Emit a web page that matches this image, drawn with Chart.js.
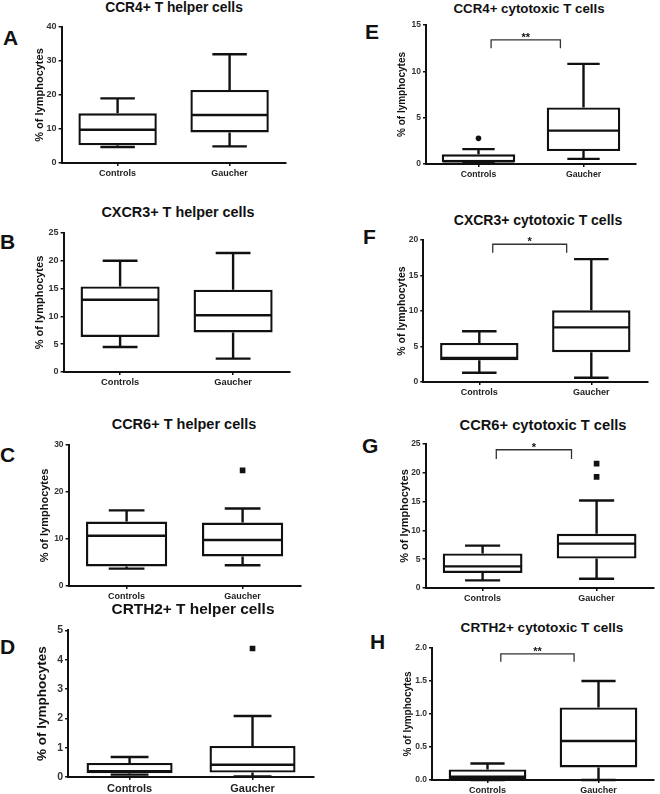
<!DOCTYPE html>
<html>
<head>
<meta charset="utf-8">
<script src="https://cdn.jsdelivr.net/npm/chart.js@4"></script>
<style>
    html, body { margin: 0; padding: 0; background: #fff; }
    body { position: relative; width: 660px; height: 794px; overflow: hidden; font-family: 'Liberation Sans', Arial, sans-serif; }
    canvas { position: absolute; }
    .title, .letter { position: absolute; color: #111; font-weight: bold; white-space: nowrap; }
    .title { width: 260px; text-align: center; }
</style>
</head>
<body>
<script>
// Groups on the x axis
const groups = ['Controls', 'Gaucher'];

// Box stats per group: [min, Q1, median, Q3, max]
const ccr4HelperControls = [4.7, 5.2, 9.8, 14.6, 19.0];
const ccr4HelperGaucher = [4.9, 9.0, 14.1, 21.5, 32.0];
const cxcr3HelperControls = [4.5, 6.3, 13.0, 15.4, 20.0];
const cxcr3HelperGaucher = [2.4, 7.1, 10.2, 14.8, 21.4];
const ccr6HelperControls = [3.7, 4.15, 10.7, 13.7, 16.1];
const ccr6HelperGaucher = [4.4, 6.3, 9.8, 13.5, 16.5];
const crth2HelperControls = [0.08, 0.13, 0.2, 0.48, 0.68];
const crth2HelperGaucher = [0.02, 0.15, 0.42, 1.06, 2.08];

const ccr4CytoControls = [0.1, 0.2, 0.3, 1.04, 1.6];
const ccr4CytoGaucher = [0.55, 1.4, 3.6, 6.1, 10.8];
const cxcr3CytoControls = [1.3, 3.06, 3.4, 5.5, 7.15];
const cxcr3CytoGaucher = [0.6, 4.2, 7.7, 10.1, 17.3];
const ccr6CytoControls = [1.33, 2.6, 3.76, 6.0, 7.35];
const ccr6CytoGaucher = [1.6, 5.1, 7.7, 9.4, 15.2];
const crth2CytoControls = [0.0, 0.01, 0.05, 0.16, 0.25];
const crth2CytoGaucher = [0.0, 0.19, 0.59, 1.1, 1.5];

// Outliers: [group index, value]
const ccr6HelperOutliers = [[1, 24.6]];
const crth2HelperOutliers = [[1, 4.38]];
const ccr4CytoOutliers = [[0, 2.77]];
const ccr6CytoOutliers = [[1, 21.6], [1, 19.3]];

// Y tick labels
const ccr4HelperTicks = [0, 10, 20, 30, 40];
const cxcr3HelperTicks = [0, 5, 10, 15, 20, 25];
const ccr6HelperTicks = [0, 10, 20, 30];
const crth2HelperTicks = [0, 1, 2, 3, 4, 5];
const ccr4CytoTicks = [0, 5, 10, 15];
const cxcr3CytoTicks = [0, 5, 10, 15, 20];
const ccr6CytoTicks = [0, 5, 10, 15, 20, 25];
const crth2CytoTicks = [0, 0.5, 1.0, 1.5, 2.0];

// Significance: [label, bracket top, bracket ends]
const ccr4CytoSig = ['**', 13.4, 12.5];
const cxcr3CytoSig = ['*', 19.4, 18.2];
const ccr6CytoSig = ['*', 24.0, 22.4];
const crth2CytoSig = ['**', 1.91, 1.79];

const FONT = "'Liberation Sans', Arial, sans-serif";
const INK = '#111';
const LINE = 2.4;

// Layout of each panel (axis left, plot top/bottom, plot width, text placement)
const panels = [
    { letter: 'A', title: 'CCR4+ T helper cells', stats: [ccr4HelperControls, ccr4HelperGaucher], ticks: ccr4HelperTicks,
      left: 62, top: 27, bottom: 163, width: 224, titleDist: 22, yTitleSize: 11, tickSize: 9, labelSize: 9,
      titleX: 174, titleY: 8, titleSize: 13.8, letterX: 3, letterY: 37 },
    { letter: 'B', title: 'CXCR3+ T helper cells', stats: [cxcr3HelperControls, cxcr3HelperGaucher], ticks: cxcr3HelperTicks,
      left: 64, top: 233, bottom: 372, width: 226, titleDist: 24, yTitleSize: 11, tickSize: 9, labelSize: 9.3,
      titleX: 178, titleY: 212, titleSize: 14.4, letterX: 0, letterY: 241 },
    { letter: 'C', title: 'CCR6+ T helper cells', stats: [ccr6HelperControls, ccr6HelperGaucher], ticks: ccr6HelperTicks,
      outliers: ccr6HelperOutliers, marker: 'rect',
      left: 69, top: 445, bottom: 586, width: 232, titleDist: 24, yTitleSize: 11, tickSize: 8.5, labelSize: 9,
      titleX: 184, titleY: 424, titleSize: 14.5, letterX: 0, letterY: 454 },
    { letter: 'D', title: 'CRTH2+ T helper cells', stats: [crth2HelperControls, crth2HelperGaucher], ticks: crth2HelperTicks,
      outliers: crth2HelperOutliers, marker: 'rect',
      left: 68, top: 630, bottom: 777, width: 246, titleDist: 26, yTitleSize: 13.5, tickSize: 10.5, labelSize: 11,
      titleX: 193, titleY: 609, titleSize: 15.4, letterX: 0, letterY: 646 },
    { letter: 'E', title: 'CCR4+ cytotoxic T cells', stats: [ccr4CytoControls, ccr4CytoGaucher], ticks: ccr4CytoTicks,
      outliers: ccr4CytoOutliers, marker: 'circle', sig: ccr4CytoSig,
      left: 426, top: 25, bottom: 164, width: 210, titleDist: 24, yTitleSize: 10, tickSize: 8.5, labelSize: 8.7,
      titleX: 529, titleY: 9, titleSize: 13.3, letterX: 365, letterY: 31 },
    { letter: 'F', title: 'CXCR3+ cytotoxic T cells', stats: [cxcr3CytoControls, cxcr3CytoGaucher], ticks: cxcr3CytoTicks,
      sig: cxcr3CytoSig,
      left: 423, top: 240, bottom: 382, width: 224, titleDist: 21, yTitleSize: 10.5, tickSize: 8.5, labelSize: 9,
      titleX: 538, titleY: 220, titleSize: 14, letterX: 363, letterY: 236 },
    { letter: 'G', title: 'CCR6+ cytotoxic T cells', stats: [ccr6CytoControls, ccr6CytoGaucher], ticks: ccr6CytoTicks,
      outliers: ccr6CytoOutliers, marker: 'rect', sig: ccr6CytoSig,
      left: 426, top: 444, bottom: 588, width: 228, titleDist: 21, yTitleSize: 11, tickSize: 8.5, labelSize: 9,
      titleX: 543, titleY: 425, titleSize: 14.7, letterX: 362, letterY: 445 },
    { letter: 'H', title: 'CRTH2+ cytotoxic T cells', stats: [crth2CytoControls, crth2CytoGaucher], ticks: crth2CytoTicks,
      sig: crth2CytoSig, decimals: 1,
      left: 432, top: 648, bottom: 780, width: 222, titleDist: 24, yTitleSize: 10, tickSize: 8.5, labelSize: 9,
      titleX: 542, titleY: 628, titleSize: 13.6, letterX: 370, letterY: 641 }
];

// Whiskers, medians and significance brackets drawn from the scales
const boxWhiskers = {
    id: 'boxWhiskers',
    afterDatasetsDraw(chart, args, opts) {
        const { ctx, scales: { x, y } } = chart;
        const ds = chart.data.datasets[0];
        const meta = chart.getDatasetMeta(0);
        ctx.save();
        ctx.strokeStyle = INK;
        ctx.lineWidth = LINE;
        meta.data.forEach((bar, i) => {
            const [lo, q1, med, q3, hi] = ds.stats[i];
            const half = bar.width / 2;
            const cap = bar.width * 0.22;
            const yLo = y.getPixelForValue(lo);
            const yHi = y.getPixelForValue(hi);
            const yMed = y.getPixelForValue(med);
            ctx.beginPath();
            ctx.moveTo(bar.x - half + 1, yMed);
            ctx.lineTo(bar.x + half - 1, yMed);
            ctx.moveTo(bar.x, y.getPixelForValue(q3));
            ctx.lineTo(bar.x, yHi);
            ctx.moveTo(bar.x - cap, yHi);
            ctx.lineTo(bar.x + cap, yHi);
            ctx.moveTo(bar.x, y.getPixelForValue(q1));
            ctx.lineTo(bar.x, yLo);
            ctx.moveTo(bar.x - cap, yLo);
            ctx.lineTo(bar.x + cap, yLo);
            ctx.stroke();
        });

        if (opts.sig) {
            const [label, top, end] = opts.sig;
            const x0 = x.getPixelForValue(0);
            const x1 = x.getPixelForValue(1);
            const xa = x0 + 0.12 * (x1 - x0);
            const xb = x0 + 0.78 * (x1 - x0);
            const yt = y.getPixelForValue(top);
            const ye = y.getPixelForValue(end);
            ctx.lineWidth = 1.3;
            ctx.strokeStyle = '#333';
            ctx.beginPath();
            ctx.moveTo(xa, ye);
            ctx.lineTo(xa, yt);
            ctx.lineTo(xb, yt);
            ctx.lineTo(xb, ye);
            ctx.stroke();
            ctx.fillStyle = INK;
            ctx.font = 'bold 11px ' + FONT;
            ctx.textAlign = 'center';
            ctx.textBaseline = 'alphabetic';
            ctx.fillText(label, (xa + xb) / 2, yt + 1);
        }
        ctx.restore();
    }
};

function addText(cls, text, left, top, size) {
    const div = document.createElement('div');
    div.className = cls;
    div.textContent = text;
    div.style.left = left + 'px';
    div.style.top = top + 'px';
    div.style.fontSize = size + 'px';
    div.style.lineHeight = size + 'px';
    document.body.appendChild(div);
}

function makePanel(p) {
    const pad = 8;
    const xh = 20;
    const yw = p.titleDist + 4 + p.yTitleSize * 0.6;

    const canvas = document.createElement('canvas');
    canvas.width = Math.round(yw + p.width + 4);
    canvas.height = (p.bottom - p.top) + pad + xh;
    canvas.style.left = (p.left - yw) + 'px';
    canvas.style.top = (p.top - pad) + 'px';
    document.body.appendChild(canvas);

    const outlierSets = (p.outliers || []).map(o => ({
        type: 'line',
        data: [{ x: groups[o[0]], y: o[1] }],
        showLine: false,
        pointStyle: p.marker,
        pointRadius: p.marker === 'rect' ? 4 : 2.8,
        backgroundColor: INK,
        borderColor: INK,
        borderWidth: 0
    }));

    new Chart(canvas.getContext('2d'), {
        type: 'bar',
        data: {
            labels: groups,
            datasets: [
                {
                    data: p.stats.map(s => [s[1], s[3]]),
                    stats: p.stats,
                    backgroundColor: '#fff',
                    borderColor: INK,
                    borderWidth: LINE,
                    borderSkipped: false,
                    barPercentage: 0.7,
                    categoryPercentage: 1
                },
                ...outlierSets
            ]
        },
        options: {
            responsive: false,
            animation: false,
            events: [],
            layout: { padding: { top: pad, right: canvas.width - yw - p.width, left: 0, bottom: 0 } },
            plugins: {
                legend: { display: false },
                tooltip: { enabled: false },
                boxWhiskers: { sig: p.sig }
            },
            scales: {
                x: {
                    offset: true,
                    grid: { offset: false, drawOnChartArea: false, drawTicks: true, tickLength: 3, color: INK, lineWidth: 1.5 },
                    border: { color: INK, width: 2 },
                    ticks: { color: '#222', padding: 2, font: { family: FONT, size: p.labelSize, weight: 'bold' } },
                    afterFit: s => { s.height = xh; }
                },
                y: {
                    min: p.ticks[0],
                    max: p.ticks[p.ticks.length - 1],
                    afterBuildTicks: s => { s.ticks = p.ticks.map(v => ({ value: v })); },
                    grid: { drawOnChartArea: false, drawTicks: true, tickLength: 3, color: INK, lineWidth: 1.5 },
                    border: { color: INK, width: 2 },
                    ticks: {
                        color: '#333',
                        padding: 2,
                        font: { family: FONT, size: p.tickSize, weight: 'bold' },
                        callback: v => p.decimals ? Number(v).toFixed(p.decimals) : v
                    },
                    title: {
                        display: true,
                        text: '% of lymphocytes',
                        color: INK,
                        padding: { top: 4, bottom: 0 },
                        font: { family: FONT, size: p.yTitleSize, weight: 'bold' }
                    },
                    afterFit: s => { s.width = yw; }
                }
            }
        },
        plugins: [boxWhiskers]
    });

    addText('title', p.title, p.titleX - 130, p.titleY - p.titleSize * 0.49, p.titleSize);
    addText('letter', p.letter, p.letterX, p.letterY - 10.5, 21);
}

panels.forEach(makePanel);
</script>
</body>
</html>
